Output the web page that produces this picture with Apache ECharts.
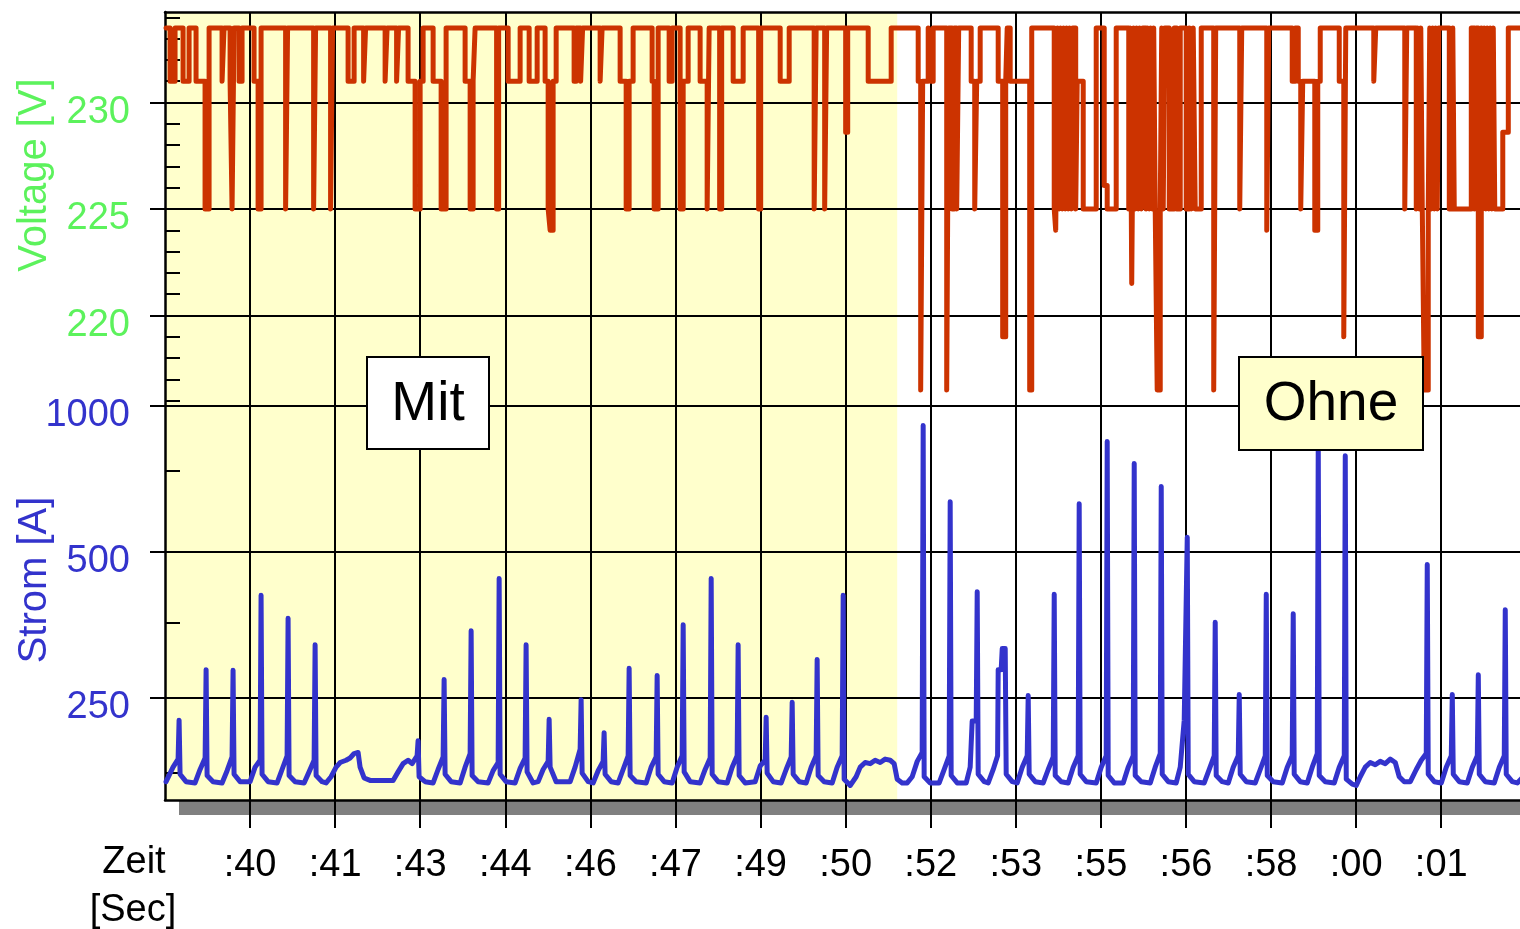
<!DOCTYPE html>
<html>
<head>
<meta charset="utf-8">
<title>Spannung und Strom - Mit / Ohne</title>
<script src="https://cdn.jsdelivr.net/npm/echarts@6/dist/echarts.min.js"></script>
<style>
  html, body { margin: 0; padding: 0; background: #fff; }
  #chart { width: 1520px; height: 929px; }
</style>
</head>
<body>
<div id="chart"></div>
<script>
// Zeitachse in Sekunden, Ticks alle 1.54 s
const zeitTicks = [40, 41.54, 43.08, 44.62, 46.16, 47.7, 49.24, 50.78, 52.32, 53.86, 55.4, 56.94, 58.48, 60.02, 61.56];
const zeitMin = 38.46;
const zeitMax = 63.04;
const mitEnde = 51.713;

const voltTicks = [220, 225, 230];
const voltMinorTicks = [216, 217, 218, 219, 221, 222, 223, 224, 226, 227, 228, 229, 231, 232, 233, 234];
const voltMin = 215.75;
const voltMax = 234.25;

const stromTicks = [250, 500, 1000];
const stromMinorTicks = [175, 358, 737];
const stromMin = 154;
const stromMax = 1000;

// Spannung [V], Stufenwerte (t, V)
const voltMit = [
  [38.479,233.5],[38.552,231],[38.642,233.5],[38.787,231],[38.896,233.5],[39.022,231],[39.185,225],[39.258,233.5],
  [39.493,231],[39.529,233.5],[39.638,231],[39.674,225],[39.710,233.5],[39.801,231],[39.855,233.5],[40.072,231],
  [40.145,225],[40.199,233.5],[40.643,225],[40.679,233.5],[41.150,225],[41.186,233.5],[41.457,225],[41.493,233.5],
  [41.774,231],[41.883,233.5],[42.055,231],[42.091,233.5],[42.444,231],[42.480,233.5],[42.652,231],[42.688,233.5],
  [42.860,231],[42.987,225],[43.078,231],[43.132,233.5],[43.313,231],[43.458,225],[43.548,233.5],[43.892,231],
  [43.983,225],[44.037,231],[44.073,233.5],[44.462,225],[44.499,233.5],[44.671,231],[44.888,233.5],[45.051,231],
  [45.196,233.5],[45.340,231],[45.395,225],[45.431,224],[45.485,231],[45.540,233.5],[45.865,231],[45.902,233.5],
  [45.983,231],[46.019,233.5],[46.336,231],[46.372,233.5],[46.698,231],[46.807,225],[46.861,231],[46.933,233.5],
  [47.277,231],[47.314,225],[47.386,233.5],[47.585,231],[47.639,233.5],[47.784,225],[47.839,231],[47.929,233.5],
  [48.146,231],[48.273,225],[48.309,233.5],[48.499,225],[48.536,233.5],[48.744,231],[48.925,233.5],[49.205,225],
  [49.242,233.5],[49.595,231],[49.758,233.5],[50.210,225],[50.246,233.5],[50.400,225],[50.436,233.5],[50.780,228.6],
  [50.817,233.5],[51.188,231],[51.604,233.5]
];
const voltOhne = [
  [52.093,231],[52.138,216.5],[52.174,231],[52.274,233.5],[52.310,231],[52.364,233.5],[52.609,216.5],[52.645,233.5],
  [52.708,225],[52.745,233.5],[52.790,225],[52.826,233.5],[53.052,231],[53.116,225],[53.152,231],[53.215,233.5],
  [53.541,231],[53.622,219],[53.677,231],[53.704,233.5],[53.758,231],[54.111,216.5],[54.148,233.5],
  [54.555,225],[54.582,224],[54.618,233.5],[54.645,225],[54.672,233.5],[54.700,225],[54.727,233.5],[54.754,225],
  [54.781,233.5],[54.808,225],[54.835,233.5],[54.863,225],[54.890,233.5],[54.944,225],[54.971,231],[55.080,225],
  [55.315,233.5],[55.460,226.1],[55.514,225],[55.677,233.5],
  [55.904,225],[55.931,233.5],[55.958,221.5],[55.994,233.5],[56.021,225],[56.048,233.5],[56.076,225],[56.103,233.5],
  [56.130,225],[56.157,233.5],[56.220,225],[56.247,233.5],[56.275,225],[56.302,233.5],[56.329,225],[56.356,233.5],
  [56.383,225],[56.419,216.5],[56.474,225],[56.501,233.5],[56.528,225],[56.555,233.5],[56.637,225],[56.727,233.5],
  [56.772,225],[56.836,233.5],[56.944,225],[56.999,233.5],[57.035,225],[57.071,233.5],[57.107,225],[57.216,233.5],
  [57.442,216.5],[57.478,233.5],[57.913,225],[57.949,233.5],[58.402,224],[58.438,233.5],[58.863,231],[58.918,233.5],
  [58.972,231],[59.017,225],[59.053,231],[59.271,224],[59.325,231],[59.370,233.5],[59.714,231],[59.796,219],
  [59.832,233.5],[60.339,231],[60.375,233.5],
  [60.900,225],[60.936,233.5],[61.108,225],[61.135,233.5],[61.162,225],[61.190,233.5],[61.217,225],[61.253,216.5],
  [61.325,225],[61.352,233.5],[61.380,225],[61.407,233.5],[61.434,225],[61.461,233.5],[61.488,225],[61.515,233.5],
  [61.706,225],[61.769,233.5],[61.796,225],[62.104,233.5],
  [62.167,225],[62.194,233.5],[62.231,219],[62.285,233.5],[62.312,225],[62.339,233.5],[62.366,225],[62.393,233.5],
  [62.421,225],[62.448,233.5],[62.475,225],[62.502,233.5],[62.529,225],[62.674,228.6],[62.774,233.5],[63.045,233.5]
];

// Strom [A] (t, A)
const stromMit = [
  [38.479,168],[38.606,180],[38.697,187],[38.715,225],[38.733,174],[38.841,168],
  [39.004,167],[39.095,178],[39.186,188],[39.204,286],[39.222,173],[39.330,168],
  [39.493,167],[39.584,177],[39.674,189],[39.692,285],[39.710,174],[39.819,168],
  [40.000,168],[40.091,180],[40.181,186],[40.199,407],[40.217,174],[40.326,168],
  [40.489,167],[40.579,178],[40.670,190],[40.688,365],[40.706,173],[40.815,168],
  [40.978,167],[41.068,176],[41.159,186],[41.177,322],[41.195,173],[41.303,168],
  [41.376,167],[41.466,172],[41.557,180],[41.629,184],[41.738,186],[41.810,188],[41.883,192],[41.955,193],
  [41.991,180],[42.064,171],[42.172,169],[42.589,169],[42.679,176],[42.770,183],[42.860,186],[42.933,183],[43.023,190],
  [43.041,204],[43.059,172],[43.168,168],
  [43.313,167],[43.403,178],[43.494,189],[43.512,273],[43.530,174],[43.639,168],
  [43.802,167],[43.892,180],[43.983,192],[44.001,344],[44.019,173],[44.128,168],
  [44.309,167],[44.399,177],[44.490,184],[44.508,441],[44.526,174],[44.634,168],
  [44.797,167],[44.888,179],[44.978,188],[44.996,322],[45.014,176],[45.123,167],
  [45.214,168],[45.304,178],[45.395,185],[45.413,226],[45.431,180],[45.540,168],
  [45.793,168],[45.883,180],[45.974,196],[45.992,248],[46.010,175],[46.119,168],
  [46.209,167],[46.300,177],[46.390,185],[46.408,212],[46.426,174],[46.535,168],
  [46.662,167],[46.752,178],[46.843,190],[46.861,288],[46.879,173],[46.988,168],
  [47.169,167],[47.259,180],[47.350,189],[47.368,278],[47.386,174],[47.495,168],
  [47.639,167],[47.730,180],[47.821,190],[47.839,354],[47.857,176],[47.965,168],
  [48.146,167],[48.237,178],[48.328,188],[48.346,441],[48.364,174],[48.472,168],
  [48.635,167],[48.726,180],[48.816,190],[48.834,322],[48.852,173],[48.961,167],
  [49.142,168],[49.233,181],[49.323,186],[49.341,228],[49.359,175],[49.468,168],
  [49.613,167],[49.703,178],[49.794,189],[49.812,245],[49.830,174],[49.939,168],
  [50.065,167],[50.156,180],[50.246,190],[50.264,300],[50.282,173],[50.391,168],
  [50.536,167],[50.626,180],[50.717,190],[50.735,407],[50.753,170],[50.862,165],
  [50.970,172],[51.043,180],[51.133,184],[51.224,183],[51.314,186],[51.405,184],[51.495,187],[51.586,186],
  [51.658,183],[51.713,170]
];
const stromOhne = [
  [51.803,167],[51.894,167],
  [51.984,172],[52.075,185],[52.165,193],[52.183,912],[52.201,172],[52.310,167],
  [52.473,167],[52.564,178],[52.654,190],[52.672,635],[52.690,173],[52.799,167],
  [52.962,167],[53.034,180],[53.070,224],[53.143,224],[53.161,414],[53.179,174],[53.288,168],
  [53.360,167],[53.451,178],[53.530,190],[53.541,286],[53.595,286],[53.614,316],[53.668,316],[53.686,174],[53.795,168],
  [53.885,167],[53.976,180],[54.066,190],[54.084,253],[54.102,174],[54.211,168],
  [54.356,167],[54.446,178],[54.537,189],[54.555,409],[54.573,173],[54.682,168],
  [54.808,167],[54.899,180],[54.989,190],[55.007,629],[55.025,174],[55.134,168],
  [55.315,167],[55.406,180],[55.496,190],[55.514,845],[55.532,173],[55.641,167],
  [55.804,167],[55.894,180],[55.985,190],[56.003,761],[56.021,173],[56.130,168],
  [56.293,167],[56.383,180],[56.474,192],[56.492,682],[56.510,174],[56.619,168],
  [56.763,167],[56.836,180],[56.908,225],[56.944,225],[56.963,536],[56.981,174],[57.089,168],
  [57.270,167],[57.361,178],[57.451,190],[57.469,358],[57.487,173],[57.596,168],
  [57.705,167],[57.795,180],[57.886,190],[57.904,254],[57.922,174],[58.031,168],
  [58.194,167],[58.284,178],[58.375,190],[58.393,409],[58.411,173],[58.519,168],
  [58.682,167],[58.773,180],[58.863,190],[58.881,373],[58.899,174],[59.008,168],
  [59.135,167],[59.225,180],[59.316,192],[59.334,853],[59.352,173],[59.461,168],
  [59.624,167],[59.714,180],[59.805,190],[59.823,790],[59.841,170],[59.950,166],
  [60.022,165],[60.094,172],[60.185,180],[60.275,184],[60.366,182],[60.456,185],[60.547,183],[60.637,187],
  [60.728,184],[60.800,172],[60.891,168],[61.000,168],
  [61.108,178],[61.199,186],[61.289,192],[61.307,471],[61.325,174],[61.434,168],
  [61.561,167],[61.651,180],[61.742,190],[61.760,254],[61.778,174],[61.887,168],
  [62.031,167],[62.122,180],[62.213,190],[62.231,279],[62.249,174],[62.357,168],
  [62.520,167],[62.611,180],[62.701,190],[62.719,380],[62.737,174],[62.846,168],
  [62.937,167],[63.045,172]
];

const FONT = '"Liberation Sans", Arial, Helvetica, sans-serif';
const GREEN = '#5CF25C';
const BLUE = '#3333CC';
const RED = '#CC3300';
const YELLOW = '#FFFFCC';

const chart = echarts.init(document.getElementById('chart'));

function zeitLabel(v) {
  const s = Math.floor(v + 1e-6) % 60;
  return ':' + String(s).padStart(2, '0');
}

const gridLine = { show: true, lineStyle: { color: '#000', width: 2 } };
const tickStyle = { color: '#000', width: 2 };
const frameLine = { color: '#000', width: 2.5 };

const option = {
  animation: false,
  backgroundColor: '#fff',
  grid: [
    { left: 165, top: 12, width: 1358, height: 394, show: true, backgroundColor: '#fff',
      borderWidth: 0, outerBoundsMode: 'none', containLabel: false },
    // Schatten nur unter dem Diagramm
    { left: 165, top: 406, width: 1358, height: 394, show: true, backgroundColor: '#fff',
      borderWidth: 0, shadowColor: '#808080', shadowBlur: 0,
      shadowOffsetX: 14, shadowOffsetY: 15, outerBoundsMode: 'none', containLabel: false }
  ],
  xAxis: [
    { type: 'value', gridIndex: 0, position: 'top', min: zeitMin, max: zeitMax, z: 2,
      axisLine: { show: true, onZero: false, lineStyle: frameLine },
      axisTick: { show: false, customValues: zeitTicks },
      axisLabel: { show: false, customValues: zeitTicks },
      splitLine: gridLine },
    { type: 'value', gridIndex: 1, position: 'bottom', min: zeitMin, max: zeitMax, z: 2,
      axisLine: { show: true, onZero: false, lineStyle: frameLine },
      axisTick: { show: true, customValues: zeitTicks, length: 28, lineStyle: tickStyle },
      axisLabel: { customValues: zeitTicks, formatter: zeitLabel, color: '#000',
        fontSize: 38, fontFamily: FONT, margin: 47 },
      splitLine: gridLine },
    { type: 'value', gridIndex: 0, position: 'bottom', min: zeitMin, max: zeitMax, z: 2,
      axisLine: { show: true, onZero: false, lineStyle: { color: '#000', width: 2 } },
      axisTick: { show: false }, axisLabel: { show: false }, splitLine: { show: false } }
  ],
  yAxis: [
    { type: 'value', gridIndex: 0, position: 'left', offset: 0, min: voltMin, max: voltMax, z: 2,
      axisLine: { show: true, onZero: false, lineStyle: frameLine },
      axisTick: { show: true, customValues: voltTicks, length: 15, lineStyle: tickStyle },
      axisLabel: { customValues: voltTicks, color: GREEN, fontSize: 38, fontFamily: FONT,
        margin: 35, verticalAlign: 'top', lineHeight: 20, formatter: v => String(v) },
      splitLine: gridLine },
    { type: 'value', gridIndex: 0, position: 'left', offset: 0, min: voltMin, max: voltMax, z: 2,
      axisLine: { show: false, onZero: false },
      axisTick: { show: true, inside: true, customValues: voltMinorTicks, length: 15, lineStyle: tickStyle },
      axisLabel: { show: false }, splitLine: { show: false } },
    { type: 'log', logBase: 2, gridIndex: 1, position: 'left', offset: 0, min: stromMin, max: stromMax, z: 2,
      axisLine: { show: true, onZero: false, lineStyle: frameLine },
      axisTick: { show: true, customValues: stromTicks, length: 15, lineStyle: tickStyle },
      axisLabel: { customValues: stromTicks, color: BLUE, fontSize: 38, fontFamily: FONT,
        margin: 35, verticalAlign: 'top', lineHeight: 20, formatter: v => String(Math.round(v)) },
      splitLine: gridLine },
    { type: 'log', logBase: 2, gridIndex: 1, position: 'left', offset: 0, min: stromMin, max: stromMax, z: 2,
      axisLine: { show: false, onZero: false },
      axisTick: { show: true, inside: true, customValues: stromMinorTicks, length: 15, lineStyle: tickStyle },
      axisLabel: { show: false }, splitLine: { show: false } }
  ],
  series: [
    // gelber Bereich "Mit"
    { type: 'line', xAxisIndex: 0, yAxisIndex: 0, z: 1, silent: true, symbol: 'none',
      data: [[zeitMin, voltMin]], lineStyle: { width: 0 },
      markArea: { silent: true, itemStyle: { color: YELLOW, opacity: 1 }, label: { show: false },
        data: [[{ xAxis: zeitMin, yAxis: voltMin }, { xAxis: mitEnde, yAxis: voltMax }]] } },
    { type: 'line', xAxisIndex: 1, yAxisIndex: 2, z: 1, silent: true, symbol: 'none',
      data: [[zeitMin, stromMax]], lineStyle: { width: 0 },
      markArea: { silent: true, itemStyle: { color: YELLOW, opacity: 1 }, label: { show: false },
        data: [[{ xAxis: zeitMin, yAxis: stromMin }, { xAxis: mitEnde, yAxis: stromMax }]] } },
    { name: 'Voltage', type: 'line', xAxisIndex: 0, yAxisIndex: 0, z: 3, step: 'end',
      showSymbol: false, symbol: 'none', data: voltMit.concat(voltOhne),
      lineStyle: { color: RED, width: 5, join: 'round', cap: 'round' } },
    { name: 'Strom', type: 'line', xAxisIndex: 1, yAxisIndex: 2, z: 3,
      showSymbol: false, symbol: 'none', data: stromMit.concat(stromOhne),
      lineStyle: { color: BLUE, width: 5, join: 'round', cap: 'round' } }
  ],
  graphic: [
    { type: 'text', x: 35, y: 175, rotation: Math.PI / 2, z: 100,
      style: { text: 'Voltage [V]', fill: GREEN, font: '40px ' + FONT, align: 'center', verticalAlign: 'middle' } },
    { type: 'text', x: 35, y: 580, rotation: Math.PI / 2, z: 100,
      style: { text: 'Strom [A]', fill: BLUE, font: '40px ' + FONT, align: 'center', verticalAlign: 'middle' } },
    { type: 'text', x: 134, y: 863, z: 100,
      style: { text: 'Zeit', fill: '#000', font: '38px ' + FONT, align: 'center', verticalAlign: 'middle' } },
    { type: 'text', x: 133, y: 911, z: 100,
      style: { text: '[Sec]', fill: '#000', font: '38px ' + FONT, align: 'center', verticalAlign: 'middle' } },
    { type: 'rect', z: 100, shape: { x: 367, y: 357, width: 122, height: 92 },
      style: { fill: '#fff', stroke: '#000', lineWidth: 2 } },
    { type: 'text', x: 428, y: 405, z: 101,
      style: { text: 'Mit', fill: '#000', font: '55px ' + FONT, align: 'center', verticalAlign: 'middle' } },
    { type: 'rect', z: 100, shape: { x: 1239, y: 357, width: 184, height: 93 },
      style: { fill: YELLOW, stroke: '#000', lineWidth: 2 } },
    { type: 'text', x: 1331, y: 405, z: 101,
      style: { text: 'Ohne', fill: '#000', font: '55px ' + FONT, align: 'center', verticalAlign: 'middle' } }
  ]
};

chart.setOption(option);
</script>
</body>
</html>
